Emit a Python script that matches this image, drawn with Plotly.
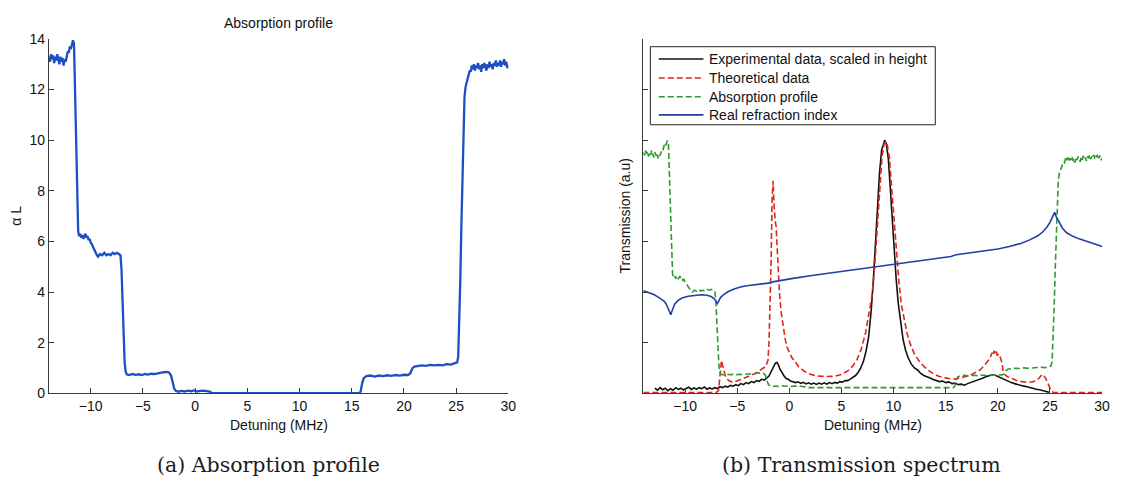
import plotly.graph_objects as go

# ---------------- (a) absorption profile, alpha*L versus detuning ----------------
detuning_a = [
    -14.0, -13.9, -13.8, -13.7, -13.6, -13.5, -13.4, -13.3, -13.2, -13.1,
    -13.0, -12.9, -12.8, -12.7, -12.6, -12.5, -12.4, -12.3, -12.2, -12.1,
    -12.0, -11.9, -11.8, -11.7, -11.6, -11.5, -11.4, -11.3, -11.2, -11.1,
    -11.0, -10.9, -10.8, -10.7, -10.6, -10.5, -10.4, -10.3, -10.2, -10.1,
    -10.0, -9.9, -9.8, -9.7, -9.6, -9.5, -9.4, -9.3, -9.1, -8.9,
    -8.7, -8.5, -8.3, -8.1, -7.9, -7.7, -7.5, -7.3, -7.15, -7.05,
    -6.97, -6.85, -6.75, -6.65, -6.55, -6.3, -6.0, -5.7, -5.4, -5.1,
    -4.8, -4.5, -4.2, -3.9, -3.6, -3.3, -3.0, -2.7, -2.5, -2.3,
    -2.15, -2.0, -1.85, -1.6, -1.3, -1.0, -0.7, -0.4, -0.1, 0.2,
    0.5, 0.8, 1.1, 1.4, 1.6, 1.8, 15.7, 15.85, 16.0, 16.15,
    16.4, 16.8, 17.2, 17.6, 18.0, 18.4, 18.8, 19.2, 19.6, 20.0,
    20.4, 20.6, 20.8, 21.0, 21.3, 21.7, 22.1, 22.5, 22.9, 23.3,
    23.7, 24.1, 24.5, 24.9, 25.1, 25.2, 25.3, 25.4, 25.5, 25.6,
    25.7, 25.8, 25.9, 26.0, 26.1, 26.2, 26.3, 26.4, 26.5, 26.6,
    26.7, 26.8, 26.9, 27.0, 27.1, 27.2, 27.3, 27.4, 27.5, 27.6,
    27.7, 27.8, 27.9, 28.0, 28.1, 28.2, 28.3, 28.4, 28.5, 28.6,
    28.7, 28.8, 28.9, 29.0, 29.1, 29.2, 29.3, 29.4, 29.5, 29.6,
    29.7, 29.8, 29.9, 30.0,
]
alpha_L = [
    13.3, 13.1, 13.4, 13.2, 13.35, 13.05, 13.3, 13.15, 13.4, 13.2,
    13.0, 13.3, 13.1, 13.25, 12.95, 13.2, 13.1, 13.3, 13.5, 13.45,
    13.7, 13.6, 13.85, 13.95, 13.8, 11.9, 9.3, 7.3, 6.4, 6.2,
    6.3, 6.15, 6.25, 6.1, 6.2, 6.3, 6.15, 6.2, 6.05, 6.1,
    5.95, 5.9, 5.8, 5.7, 5.6, 5.5, 5.45, 5.4, 5.5, 5.45,
    5.55, 5.45, 5.5, 5.45, 5.55, 5.5, 5.55, 5.5, 5.45, 4.9,
    3.6, 2.3, 1.2, 0.85, 0.75, 0.72, 0.76, 0.73, 0.75, 0.72,
    0.76, 0.74, 0.77, 0.76, 0.79, 0.8, 0.83, 0.84, 0.82, 0.7,
    0.4, 0.18, 0.1, 0.06, 0.09, 0.07, 0.1, 0.08, 0.11, 0.07,
    0.09, 0.1, 0.08, 0.06, 0.01, 0.0, 0.0, 0.06, 0.4, 0.6,
    0.68, 0.7, 0.66, 0.7, 0.68, 0.71, 0.69, 0.72, 0.7, 0.73,
    0.72, 0.78, 0.98, 1.05, 1.07, 1.1, 1.08, 1.12, 1.1, 1.12,
    1.1, 1.15, 1.13, 1.17, 1.22, 1.45, 2.6, 4.5, 6.6, 8.6,
    10.5, 11.7, 12.1, 12.25, 12.5, 12.6, 12.75, 12.7, 12.95, 12.8,
    13.0, 12.75, 12.95, 12.85, 13.05, 12.8, 12.95, 12.7, 13.0, 12.85,
    13.05, 12.9, 12.75, 13.0, 12.85, 13.1, 12.9, 13.0, 12.8, 13.05,
    12.95, 13.15, 12.9, 13.05, 12.95, 13.15, 12.9, 13.1, 13.0, 13.2,
    12.95, 13.1, 12.85, 12.95,
]

# ---------------- (b) transmission spectrum ----------------
# experimental transmission, scaled in height
detuning_exp = [
    -12.9, -12.65, -12.4, -12.15, -11.9, -11.65, -11.4, -11.15, -10.9, -10.65,
    -10.4, -10.15, -9.9, -9.65, -9.4, -9.15, -8.9, -8.65, -8.4, -8.15,
    -7.9, -7.65, -7.4, -7.15, -6.9, -6.65, -6.4, -6.15, -5.9, -5.65,
    -5.4, -5.15, -4.9, -4.65, -4.4, -4.15, -3.9, -3.65, -3.4, -3.15,
    -2.9, -2.65, -2.4, -2.15, -1.95, -1.75, -1.55, -1.35, -1.2, -1.05,
    -0.9, -0.7, -0.5, -0.3, -0.1, 0.1, 0.35, 0.6, 0.85, 1.1,
    1.35, 1.6, 1.85, 2.1, 2.35, 2.6, 2.85, 3.1, 3.35, 3.6,
    3.85, 4.1, 4.35, 4.6, 4.85, 5.1, 5.35, 5.6, 5.85, 6.1,
    6.35, 6.6, 6.85, 7.1, 7.35, 7.6, 7.85, 8.05, 8.25, 8.45,
    8.65, 8.85, 9.05, 9.15, 9.3, 9.5, 9.7, 9.85, 10.05, 10.25,
    10.45, 10.65, 10.9, 11.15, 11.4, 11.7, 12.0, 12.3, 12.6, 12.9,
    13.2, 13.5, 13.8, 14.1, 14.4, 14.7, 15.0, 15.3, 15.6, 15.9,
    16.2, 16.5, 16.8, 17.1, 17.4, 17.7, 18.0, 18.3, 18.6, 18.9,
    19.2, 19.5, 19.8, 20.1, 20.4, 20.7, 21.0, 21.3, 21.6, 21.9,
    22.2, 22.5, 22.8, 23.1, 23.4, 23.7, 24.0, 24.3, 24.6, 24.9,
]
transmission_exp = [
    0.02, 0.012, 0.022, 0.014, 0.02, 0.01, 0.018, 0.012, 0.022, 0.015,
    0.02, 0.013, 0.019, 0.024, 0.015, 0.021, 0.016, 0.022, 0.018, 0.025,
    0.016, 0.021, 0.017, 0.022, 0.018, 0.026, 0.022, 0.028, 0.024, 0.031,
    0.028, 0.034, 0.03, 0.038, 0.034, 0.042, 0.038, 0.046, 0.042, 0.05,
    0.047, 0.055, 0.052, 0.06, 0.068, 0.085, 0.105, 0.118, 0.122, 0.112,
    0.095, 0.08, 0.068, 0.058, 0.055, 0.048, 0.046, 0.042, 0.045, 0.039,
    0.043, 0.037, 0.041, 0.036, 0.04, 0.035, 0.04, 0.036, 0.041, 0.036,
    0.042, 0.038, 0.043, 0.04, 0.046, 0.044, 0.05, 0.05, 0.056, 0.062,
    0.07, 0.082, 0.1, 0.125, 0.165, 0.22, 0.325, 0.44, 0.58, 0.74,
    0.87, 0.96, 0.995, 1.0, 0.985, 0.925, 0.8, 0.7, 0.56, 0.45,
    0.355, 0.285, 0.215, 0.17, 0.14, 0.115, 0.1, 0.092, 0.078, 0.07,
    0.066, 0.06, 0.054, 0.05, 0.046, 0.048, 0.042, 0.045, 0.038, 0.04,
    0.034, 0.036, 0.032, 0.038, 0.042, 0.047, 0.05, 0.056, 0.06, 0.066,
    0.068, 0.073, 0.07, 0.064, 0.058, 0.052, 0.046, 0.042, 0.038, 0.034,
    0.033, 0.028, 0.026, 0.022, 0.02, 0.016, 0.014, 0.01, 0.008, 0.004,
]

# theoretical transmission
detuning_theo = [
    -14.0, -7.0, -6.8, -6.65, -6.5, -6.4, -6.3, -6.15, -6.0, -5.75,
    -5.5, -5.2, -4.8, -4.4, -4.0, -3.6, -3.2, -2.8, -2.5, -2.3,
    -2.15, -2.05, -1.95, -1.85, -1.75, -1.65, -1.56, -1.48, -1.42, -1.35,
    -1.27, -1.18, -1.1, -0.95, -0.8, -0.6, -0.4, -0.2, 0.0, 0.25,
    0.5, 0.9, 1.4, 2.0, 2.7, 3.5, 4.3, 5.0, 5.6, 6.1,
    6.5, 6.9, 7.3, 7.65, 7.95, 8.2, 8.45, 8.7, 8.9, 9.1,
    9.25, 9.4, 9.6, 9.8, 10.0, 10.25, 10.5, 10.75, 11.0, 11.3,
    11.6, 12.0, 12.4, 12.9, 13.4, 13.9, 14.4, 14.9, 15.4, 15.9,
    16.4, 16.9, 17.4, 17.9, 18.3, 18.6, 18.9, 19.1, 19.3, 19.45,
    19.55, 19.65, 19.75, 19.85, 19.95, 20.1, 20.25, 20.4, 20.5, 20.65,
    20.9, 21.3, 21.8, 22.3, 22.8, 23.3, 23.7, 24.0, 24.25, 24.4,
    24.6, 24.85, 25.05, 25.3, 25.5, 30.0,
]
transmission_theo = [
    0.003, 0.003, 0.01, 0.08, 0.13, 0.11, 0.092, 0.07, 0.058, 0.048,
    0.045, 0.046, 0.052, 0.058, 0.065, 0.072, 0.08, 0.09, 0.097, 0.105,
    0.118, 0.13, 0.2, 0.35, 0.52, 0.77, 0.84, 0.75, 0.7, 0.68,
    0.66, 0.58, 0.5, 0.4, 0.325, 0.26, 0.215, 0.18, 0.16, 0.14,
    0.128, 0.104, 0.088, 0.075, 0.068, 0.066, 0.067, 0.074, 0.088, 0.108,
    0.134, 0.175, 0.236, 0.315, 0.39, 0.51, 0.66, 0.85, 0.94, 0.985,
    0.995, 0.98, 0.93, 0.82, 0.705, 0.56, 0.445, 0.35, 0.29, 0.235,
    0.195, 0.155, 0.13, 0.106, 0.088, 0.075, 0.066, 0.06, 0.057, 0.056,
    0.06, 0.066, 0.072, 0.082, 0.092, 0.105, 0.118, 0.13, 0.145, 0.16,
    0.15, 0.168, 0.155, 0.165, 0.15, 0.155, 0.14, 0.12, 0.09, 0.075,
    0.066, 0.058, 0.05, 0.046, 0.044, 0.045, 0.05, 0.062, 0.075, 0.07,
    0.058, 0.035, 0.015, 0.004, 0.003, 0.003,
]

# real part of the refraction index (arbitrary units)
detuning_index = [
    -14.0, -13.5, -13.0, -12.5, -12.0, -11.8, -11.6, -11.45, -11.37, -11.28,
    -11.15, -11.0, -10.7, -10.3, -9.7, -9.0, -8.4, -7.9, -7.5, -7.2,
    -7.0, -6.9, -6.8, -6.6, -6.3, -5.9, -5.3, -4.6, -3.9, -3.3,
    -2.6, -2.0, -1.6, -1.2, -0.5, 0.5, 2.0, 4.0, 6.0, 8.4,
    10.2, 12.0, 13.8, 15.5, 16.0, 17.0, 18.6, 20.0, 21.1, 22.2,
    23.0, 23.8, 24.3, 24.7, 25.0, 25.25, 25.45, 25.6, 25.85, 26.2,
    26.6, 27.2, 27.8, 28.5, 29.2, 30.0,
]
refraction_index = [
    0.405, 0.398, 0.39, 0.378, 0.363, 0.352, 0.335, 0.318, 0.31, 0.322,
    0.34, 0.352, 0.366, 0.376, 0.383, 0.387, 0.389, 0.387, 0.382, 0.373,
    0.362, 0.355, 0.362, 0.378, 0.39, 0.401, 0.412, 0.421, 0.426, 0.429,
    0.432, 0.435, 0.44, 0.443, 0.448, 0.455, 0.464, 0.475, 0.487, 0.501,
    0.51, 0.52, 0.531, 0.54, 0.547, 0.553, 0.561, 0.57, 0.58, 0.592,
    0.605, 0.621, 0.637, 0.656, 0.675, 0.7, 0.715, 0.698, 0.676, 0.652,
    0.634, 0.62, 0.61, 0.6, 0.59, 0.58,
]

# absorption profile drawn on the transmission axis: offset + scale * alpha_L
ABS_OFFSET = 0.022
ABS_SCALE = 0.07
absorption_scaled = [ABS_OFFSET + ABS_SCALE * v for v in alpha_L]

x_ticks = [-10, -5, 0, 5, 10, 15, 20, 25, 30]

series_names = [
    "Experimental data, scaled in height",
    "Theoretical data",
    "Absorption profile",
    "Real refraction index",
]
series_colors = ["#111111", "#e0261c", "#2e9a2e", "#1f3fa6"]
series_dash = ["solid", "6px,3px", "6px,3px", "solid"]

W, H = 1122, 488
SANS = "Liberation Sans"
SERIF = "DejaVu Serif"
AX_COLOR = "#3a3a3a"

fig = go.Figure()

fig.add_trace(go.Scatter(
    x=detuning_a, y=alpha_L, xaxis="x", yaxis="y", mode="lines",
    line=dict(color="#1d4fc4", width=2.3), showlegend=False,
))

right_series = [
    (detuning_exp, transmission_exp),
    (detuning_theo, transmission_theo),
    (detuning_a, absorption_scaled),
    (detuning_index, refraction_index),
]
for (xs, ys), name, color, dash in zip(right_series, series_names, series_colors, series_dash):
    fig.add_trace(go.Scatter(
        x=xs, y=ys, xaxis="x2", yaxis="y2", mode="lines", name=name,
        line=dict(color=color, width=1.6, dash=dash), showlegend=False,
    ))

y_dom = [(H - 398.3) / H, (H - 32) / H]
axis_common = dict(
    showline=True, linecolor=AX_COLOR, linewidth=1, mirror=False,
    ticks="inside", ticklen=5, tickcolor=AX_COLOR, tickwidth=1,
    showgrid=False, zeroline=False,
    tickfont=dict(family=SANS, size=14, color="#111"),
)

fig.update_layout(
    width=W, height=H, autosize=False,
    margin=dict(l=0, r=0, t=0, b=0),
    paper_bgcolor="white", plot_bgcolor="white",
    showlegend=False,
    xaxis=dict(domain=[49.3 / W, 512 / W], range=[-14, 30], tickvals=x_ticks,
               anchor="y", **axis_common),
    yaxis=dict(domain=y_dom, range=[0, 14], tickvals=list(range(0, 15, 2)),
               anchor="x", **axis_common),
    xaxis2=dict(domain=[648 / W, 1110 / W], range=[-14, 30], tickvals=x_ticks,
                anchor="y2", **axis_common),
    yaxis2=dict(domain=y_dom, range=[0, 1.4], tickvals=[0.2 * i for i in range(8)],
                showticklabels=False, anchor="x2", **axis_common),
)


def px_x(x):
    return x / W


def px_y(y):
    return (H - y) / H


def label(text, x, y, size=14, family=SANS, angle=0, xanchor="center", color="#111"):
    fig.add_annotation(
        text=text, x=px_x(x), y=px_y(y), xref="paper", yref="paper",
        showarrow=False, textangle=angle, xanchor=xanchor, yanchor="middle",
        font=dict(family=family, size=size, color=color),
    )


# legend of the transmission panel: framed box, line samples and entry texts
fig.add_shape(type="rect", xref="paper", yref="paper",
              x0=px_x(655), x1=px_x(942), y0=px_y(120.7), y1=px_y(40),
              line=dict(color="#222", width=1), fillcolor="white", layer="above")
legend_rows = [52.7, 72.3, 91.7, 110.5]
for row_y, name, color, dash in zip(legend_rows, series_names, series_colors, series_dash):
    fig.add_shape(type="line", xref="paper", yref="paper",
                  x0=px_x(663.5), x1=px_x(708.5), y0=px_y(row_y), y1=px_y(row_y),
                  line=dict(color=color, width=1.6, dash=dash), layer="above")
    label(name, 712.5, row_y, xanchor="left")

label("Absorption profile", 280.6, 16)
label("Detuning (MHz)", 280.6, 431)
label("α L", 16, 215, angle=-90)
label("Detuning (MHz)", 879, 431)
label("Transmission (a.u)", 629, 215, angle=-90)
label("(a) Absorption profile", 270, 472, size=20.5, family=SERIF, color="#1c1c1c")
label("(b) Transmission spectrum", 868, 472, size=20.5, family=SERIF, color="#1c1c1c")

fig.write_html("out.html")
